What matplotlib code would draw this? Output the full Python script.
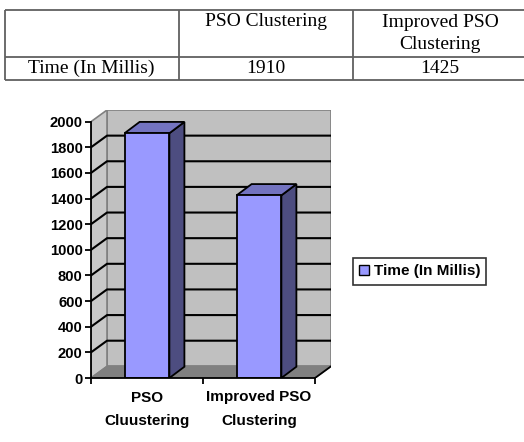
import matplotlib
matplotlib.use("Agg")
import matplotlib.pyplot as plt
from matplotlib.patches import Polygon, Rectangle

# ---- data ----
categories = ["PSO\nCluustering", "Improved PSO\nClustering"]
table_headers = ["PSO Clustering", "Improved PSO\nClustering"]
series_name = "Time (In Millis)"
values = [1910, 1425]
yticks = list(range(0, 2001, 200))

# ---- styles ----
W, H = 524, 442
DPI = 100
front_c = "#9999ff"
top_c = "#7373c0"
side_c = "#4d4d80"
wall_c = "#c0c0c0"
side_wall_c = "#c8c8c8"
floor_c = "#808080"
edge_gray = "#808080"
sans = ["Liberation Sans", "DejaVu Sans"]

fig = plt.figure(figsize=(W / DPI, H / DPI), dpi=DPI)

# ---- table (layout in pixel coords) ----
tax = fig.add_axes([0, 0, 1, 1])
tax.set_xlim(0, W)
tax.set_ylim(H, 0)
tax.axis("off")
tcol = "#606060"
tlw = 1.3
x_left, x_c1, x_c2, x_right = 4.5, 179, 353, 524
y_top, y_mid, y_bot = 10, 57, 80
for yy in (y_top, y_mid, y_bot):
    tax.plot([x_left, x_right], [yy, yy], color=tcol, lw=tlw, solid_capstyle="butt")
for xx in (x_left, x_c1, x_c2):
    tax.plot([xx, xx], [y_top, y_bot], color=tcol, lw=tlw, solid_capstyle="butt")
serif = "Liberation Serif"
tfs = 14
tax.text((x_c1 + x_c2) / 2, 21.5, table_headers[0], ha="center", va="center",
         fontsize=tfs, family=serif)
tax.text(440, 33.5, table_headers[1], ha="center", va="center",
         fontsize=tfs, family=serif, linespacing=1.45)
tax.text((x_left + x_c1) / 2, 68.5, series_name, ha="center", va="center",
         fontsize=tfs, family=serif)
tax.text((x_c1 + x_c2) / 2, 68.5, str(values[0]), ha="center", va="center",
         fontsize=tfs, family=serif)
tax.text(440, 68.5, str(values[1]), ha="center", va="center",
         fontsize=tfs, family=serif)

# ---- 3D-look bar chart ----
ncat = len(categories)
ymax = 2000
dx, dy = 0.143, 91          # wall depth offset in data units
bdx, bdy = 0.134, 88        # bar depth offset
bw = 0.4

left_px, right_px = 91, 331
bottom_px, top_px = 378, 110
ax = fig.add_axes([left_px / W, 1 - bottom_px / H,
                   (right_px - left_px) / W, (bottom_px - top_px) / H])
ax.set_xlim(0, ncat + dx)
ax.set_ylim(0, ymax + dy)
ax.patch.set_visible(False)

# walls
ax.add_patch(Polygon([(dx, dy), (ncat + dx, dy), (ncat + dx, ymax + dy), (dx, ymax + dy)],
                     closed=True, facecolor=wall_c, edgecolor=edge_gray, lw=1.2, zorder=1))
ax.add_patch(Polygon([(0, 0), (dx, dy), (dx, ymax + dy), (0, ymax)],
                     closed=True, facecolor=side_wall_c, edgecolor=edge_gray, lw=1.2, zorder=1))
ax.add_patch(Polygon([(0, 0), (ncat, 0), (ncat + dx, dy), (dx, dy)],
                     closed=True, facecolor=floor_c, edgecolor=edge_gray, lw=1.0, zorder=1))
ax.plot([ncat, ncat + dx], [0, dy], color="black", lw=1.3, zorder=2)

# gridlines
for v in yticks[1:-1]:
    ax.plot([0, dx, ncat + dx], [v, v + dy, v + dy], color="black", lw=1.5, zorder=2)

# bars
for i, v in enumerate(values):
    xc = i + 0.5
    x0, x1 = xc - bw / 2, xc + bw / 2
    ax.add_patch(Polygon([(x1, 0), (x1 + bdx, bdy), (x1 + bdx, v + bdy), (x1, v)],
                         closed=True, facecolor=side_c, edgecolor="black", lw=1.3, zorder=3))
    ax.add_patch(Polygon([(x0, v), (x1, v), (x1 + bdx, v + bdy), (x0 + bdx, v + bdy)],
                         closed=True, facecolor=top_c, edgecolor="black", lw=1.3, zorder=3))
    ax.add_patch(Rectangle((x0, 0), bw, v, facecolor=front_c, edgecolor="black",
                           lw=1.3, zorder=4))

# axes / ticks
for s in ("top", "right"):
    ax.spines[s].set_visible(False)
ax.spines["left"].set_bounds(0, ymax)
ax.spines["bottom"].set_bounds(0, ncat)
for s in ("left", "bottom"):
    ax.spines[s].set_linewidth(1.3)
    ax.spines[s].set_zorder(5)
ax.set_yticks(yticks)
ax.set_yticklabels([str(t) for t in yticks], fontsize=10.6, fontweight="bold",
                   family=sans)
ax.tick_params(axis="y", direction="out", length=4, width=1.3, pad=2)
ax.set_xticks(range(ncat + 1))
ax.set_xticklabels([""] * (ncat + 1))
ax.tick_params(axis="x", which="major", direction="out", length=4, width=1.3)
ax.set_xticks([i + 0.5 for i in range(ncat)], minor=True)
ax.set_xticklabels(categories, minor=True, fontsize=11, fontweight="bold",
                   family=sans, linespacing=1.85)
ax.tick_params(axis="x", which="minor", length=0, pad=9)

# legend
handle = Rectangle((0, 0), 1, 1, facecolor=front_c, edgecolor="black", lw=1.0)
leg = fig.legend([handle], [series_name], loc="center",
                 bbox_to_anchor=(419.5 / W, 1 - 271.5 / H),
                 prop={"weight": "bold", "size": 11, "family": sans},
                 frameon=True, fancybox=False,
                 handlelength=0.65, handleheight=0.65, handletextpad=0.35,
                 borderpad=0.4, borderaxespad=0)
leg.get_frame().set_edgecolor("black")
leg.get_frame().set_linewidth(1.2)

fig.savefig("out.png", dpi=DPI)
